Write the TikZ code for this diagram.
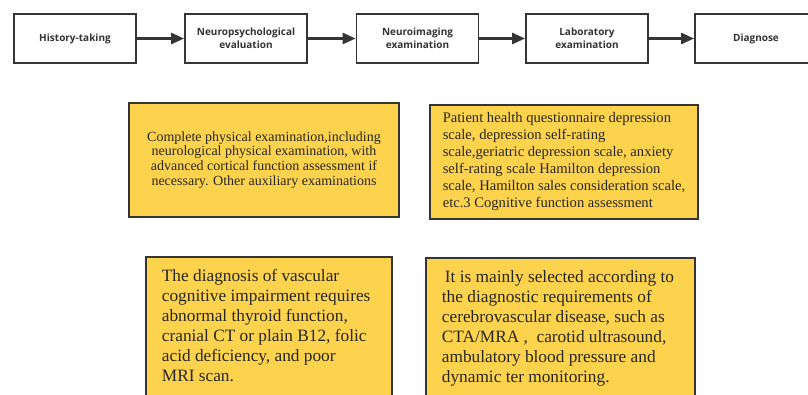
\documentclass[tikz,border=0pt]{standalone}
\usepackage{fontspec}
\setmainfont{Liberation Serif}
\newfontfamily\stepfont{Open Sans}
\usetikzlibrary{arrows.meta}
\definecolor{boxyellow}{HTML}{FDD34E}
\definecolor{edgegray}{HTML}{353535}
\definecolor{labelgray}{HTML}{333333}
\tikzset{
  stepbox/.style={draw=edgegray, line width=1.8pt, minimum width=122pt, minimum height=49pt,
    align=center, text=labelgray, font=\stepfont\bfseries\fontsize{10}{13}\selectfont},
  notebox/.style={draw=edgegray, fill=boxyellow, line width=2.6pt, text=black!85},
  notetext/.style={anchor=north west, inner sep=0pt, align=left, text=black!85,
    font=\fontsize{17.3}{20}\selectfont},
  flow/.style={draw=edgegray, line width=2.6pt, -{Triangle[length=13pt,width=11pt]}}
}
\begin{document}
\begin{tikzpicture}[x=1pt, y=-1pt]
    % Fix the page size
    \clip (0, 0) rectangle (808, 394);
    \fill[white] (0, 0) rectangle (808, 394);

    % Draw the steps
    \node[stepbox] (history) at (75, 38.5) {History-taking};
    \node[stepbox] (neuropsy) at (246, 38.5) {Neuropsychological\\evaluation};
    \node[stepbox] (imaging) at (417.5, 38.5) {Neuroimaging\\examination};
    \node[stepbox] (lab) at (587, 38.5) {Laboratory\\examination};
    \node[stepbox] (diagnose) at (756, 38.5) {Diagnose};

    % Draw the arrows between the steps
    \draw[flow] (history) -- (neuropsy);
    \draw[flow] (neuropsy) -- (imaging);
    \draw[flow] (imaging) -- (lab);
    \draw[flow] (lab) -- (diagnose);

    % Add the upper notes
    \node[notebox, minimum width=270pt, minimum height=114pt, align=center,
      font=\fontsize{14}{14.8}\selectfont] (physical) at (264, 160)
      {Complete physical examination,including\\neurological physical examination, with\\advanced cortical function assessment if\\necessary. Other auxiliary examinations};
    \node[notebox, minimum width=268pt, minimum height=114pt, align=left,
      font=\fontsize{14.6}{17}\selectfont] (scales) at (564, 162)
      {Patient health questionnaire depression\\scale, depression self-rating\\scale,geriatric depression scale, anxiety\\self-rating scale Hamilton depression\\scale, Hamilton sales consideration scale,\\etc.3 Cognitive function assessment};

    % Add the lower notes (cut off by the page)
    \node[notebox, minimum width=246pt, minimum height=150pt] (vascularbox) at (269, 332) {};
    \node[notetext] (vascular) at ([xshift=17pt, yshift=-13pt]vascularbox.north west)
      {The diagnosis of vascular\\cognitive impairment requires\\abnormal thyroid function,\\cranial CT or plain B12, folic\\acid deficiency, and poor\\MRI scan.};
    \node[notebox, minimum width=269pt, minimum height=150pt] (cerebrobox) at (560.5, 333) {};
    \node[notetext] (cerebro) at ([xshift=17pt, yshift=-13.5pt]cerebrobox.north west)
      {\hspace{3pt}It is mainly selected according to\\the diagnostic requirements of\\cerebrovascular disease, such as\\CTA/MRA\ ,\ \ carotid ultrasound,\\ambulatory blood pressure and\\dynamic ter monitoring.};
\end{tikzpicture}
\end{document}
